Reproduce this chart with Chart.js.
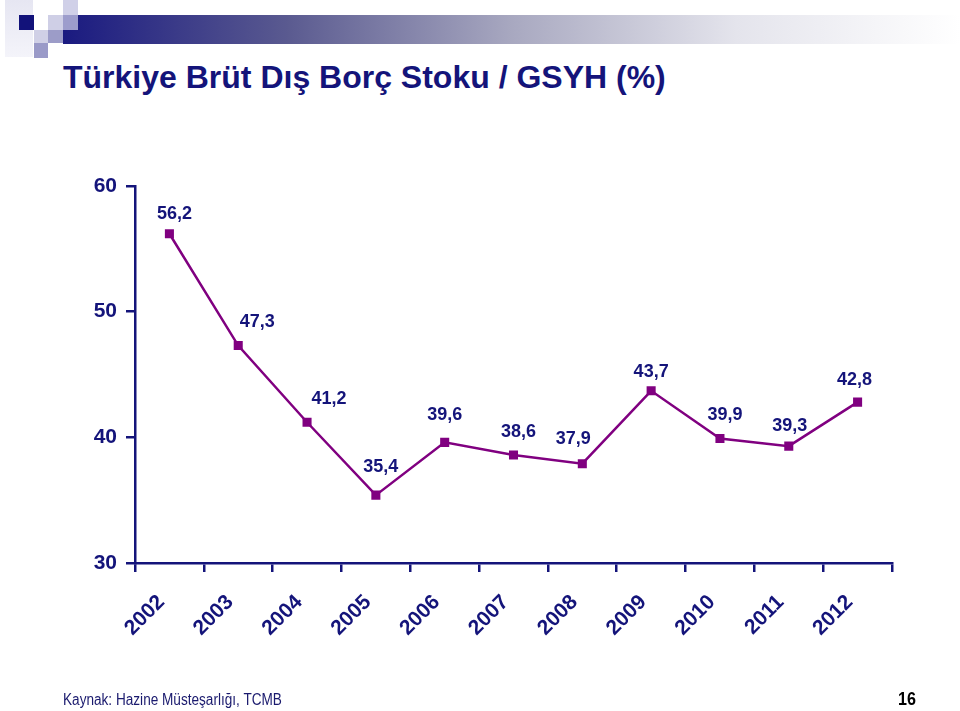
<!DOCTYPE html>
<html>
<head>
<meta charset="utf-8">
<script src="https://cdn.jsdelivr.net/npm/chart.js@4/dist/chart.umd.min.js"></script>
<style>
  body { margin: 0; background: #fff; }
  #page { position: relative; width: 960px; height: 711px; overflow: hidden; }
  #page canvas { position: absolute; left: 0; top: 0; }
  .sq { position: absolute; }
  #bar { position: absolute; left: 63px; top: 15px; width: 897px; height: 29px;
         background: linear-gradient(to right, #1a1a80 0%, #5a5a90 25%, #a8a8c0 50%, #e4e4ec 75%, #ffffff 100%); }
  #title { position: absolute; left: 63px; top: 59px; font: bold 32px "Liberation Sans", Arial, sans-serif; color: #14147a; white-space: nowrap; }
  #source { position: absolute; left: 63px; top: 691px; font: 16px "Liberation Sans", sans-serif; color: #1a1a6e;
            transform: scaleX(0.85); transform-origin: 0 0; white-space: nowrap; }
  #pageno { position: absolute; left: 898px; top: 688px; font: bold 19px "Liberation Sans", sans-serif; color: #000;
            transform: scaleX(0.85); transform-origin: 0 0; }
</style>
</head>
<body>
<div id="page">
  <div class="sq" style="left:5px;top:0;width:28px;height:57px;background:linear-gradient(#e6e6f2,#f4f4fa);"></div>
  <div id="bar"></div>
  <div class="sq" style="left:19px;top:15px;width:15px;height:15px;background:#12127a;"></div>
  <div class="sq" style="left:34px;top:30px;width:14px;height:13px;background:#d0d0e6;"></div>
  <div class="sq" style="left:34px;top:43px;width:14px;height:15px;background:#9a9ac8;"></div>
  <div class="sq" style="left:48px;top:15px;width:15px;height:15px;background:#cfcfe6;"></div>
  <div class="sq" style="left:48px;top:30px;width:15px;height:13px;background:#9c9cc8;"></div>
  <div class="sq" style="left:63px;top:0;width:15px;height:15px;background:#d0d0e8;"></div>
  <div class="sq" style="left:63px;top:15px;width:15px;height:15px;background:#9d9dcc;"></div>
  <div id="title">Türkiye Brüt Dış Borç Stoku / GSYH (%)</div>
  <canvas id="chart" width="960" height="711"></canvas>
  <div id="source">Kaynak: Hazine Müsteşarlığı, TCMB</div>
  <div id="pageno">16</div>
</div>
<script>
var years = ['2002', '2003', '2004', '2005', '2006', '2007', '2008', '2009', '2010', '2011', '2012'];
var debtRatio = [56.2, 47.3, 41.2, 35.4, 39.6, 38.6, 37.9, 43.7, 39.9, 39.3, 42.8];
var yTicks = [30, 40, 50, 60];

// where each value label sits relative to its point (x, y of label centre)
var labelOffsets = [[5, -20], [19, -24], [22, -23], [5, -28], [0, -27], [5, -23],
                    [-9, -25], [0, -19], [5, -24], [1, -20], [-3, -22]];

var navy = '#14147a';
var purple = '#800080';
var font = '"Liberation Sans", Arial, sans-serif';

var valueLabels = {
    id: 'valueLabels',
    afterDatasetsDraw: function (chart) {
        var c = chart.ctx;
        var meta = chart.getDatasetMeta(0);
        c.save();
        c.font = 'bold 18px ' + font;
        c.fillStyle = navy;
        c.textAlign = 'center';
        c.textBaseline = 'middle';
        meta.data.forEach(function (pt, i) {
            var txt = debtRatio[i].toFixed(1).replace('.', ',');
            c.fillText(txt, pt.x + labelOffsets[i][0], pt.y + labelOffsets[i][1]);
        });
        c.restore();
    }
};

var ctx = document.getElementById('chart').getContext('2d');
var myChart = new Chart(ctx, {
    type: 'line',
    data: {
        labels: years,
        datasets: [{
            data: debtRatio,
            borderColor: purple,
            backgroundColor: purple,
            borderWidth: 2.5,
            tension: 0,
            pointStyle: 'rect',
            pointRadius: 6.4,
            pointHoverRadius: 6.4,
            pointBackgroundColor: purple,
            pointBorderColor: purple,
            pointBorderWidth: 0
        }]
    },
    options: {
        responsive: false,
        animation: false,
        events: [],
        layout: { padding: { left: 85, top: 186, right: 68, bottom: 48 } },
        plugins: { legend: { display: false }, tooltip: { enabled: false } },
        scales: {
            x: {
                offset: true,
                grid: { display: true, drawOnChartArea: false, offset: true, color: navy, lineWidth: 2.5, tickLength: 9 },
                border: { color: navy, width: 2.5 },
                ticks: {
                    color: navy,
                    font: { family: font, size: 21, weight: 'bold' },
                    maxRotation: 45,
                    minRotation: 45,
                    padding: 18,
                    labelOffset: -8,
                    autoSkip: false
                },
                afterFit: function (scale) { scale.height = 100; }
            },
            y: {
                min: 30,
                max: 60,
                afterBuildTicks: function (scale) {
                    scale.ticks = yTicks.map(function (v) { return { value: v }; });
                },
                grid: { display: true, drawOnChartArea: false, color: navy, lineWidth: 2.5, tickLength: 9 },
                border: { color: navy, width: 2.5 },
                ticks: {
                    color: navy,
                    font: { family: font, size: 21, weight: 'bold' },
                    padding: 9
                },
                afterFit: function (scale) { scale.width = 50; }
            }
        }
    },
    plugins: [valueLabels]
});
</script>
</body>
</html>
